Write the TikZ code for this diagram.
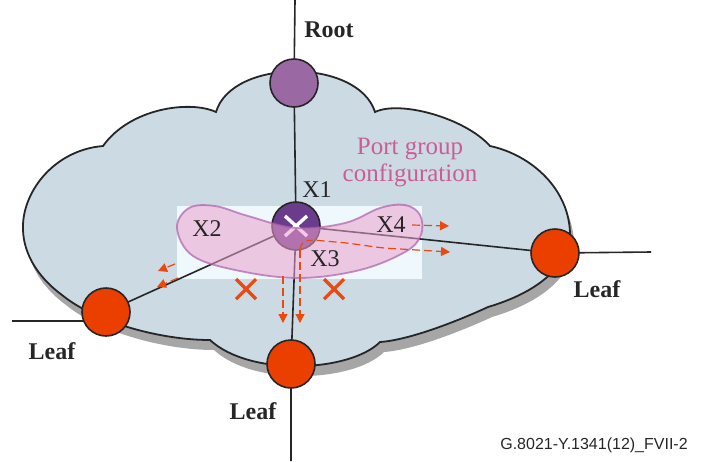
\documentclass[tikz,border=0pt]{standalone}
\usepackage{fontspec}
\setmainfont{Liberation Serif}
\newfontfamily\captionfont{Liberation Sans}
\usepackage{xcolor}
\definecolor{cloudfill}{HTML}{CBDAE3}
\definecolor{cloudshadow}{HTML}{A6A6A6}
\definecolor{rootpurple}{HTML}{9A68A2}
\definecolor{hubpurple}{HTML}{6B3C8C}
\definecolor{leaforange}{HTML}{EB3F00}
\definecolor{groupfill}{HTML}{EBA0CC}
\definecolor{groupedge}{HTML}{B060B0}
\definecolor{grouptext}{HTML}{CC5C98}
\definecolor{flow}{HTML}{EA4A10}
\definecolor{panel}{HTML}{EEF8FD}
\usetikzlibrary{positioning,arrows.meta}
\pgfdeclarelayer{cloudlayer}
\pgfdeclarelayer{linklayer}
\pgfsetlayers{cloudlayer,linklayer,main}
\newcommand{\cloudshape}[1]{%
  \path[#1] (216,112) .. controls (232,58) and (358,58) .. (375,112)
    .. controls (400,100) and (465,118) .. (490,146)
    .. controls (532,155) and (570,190) .. (570,235)
    .. controls (568,262) and (545,290) .. (488,307)
    .. controls (460,320) and (410,340) .. (380,342)
    .. controls (350,372) and (250,377) .. (210,340)
    .. controls (160,340) and (95,322) .. (62,295)
    .. controls (35,275) and (22,250) .. (23,225)
    .. controls (24,190) and (55,150) .. (103,146)
    .. controls (130,108) and (190,100) .. (216,112) -- cycle;}

\begin{document}
\begin{tikzpicture}[x=0.5pt, y=-0.5pt,
  link/.style={draw=black!85, line width=0.8pt},
  rootnode/.style={circle, draw=black!85, line width=0.8pt, fill=rootpurple,
    minimum size=24pt, inner sep=0pt},
  hubnode/.style={rootnode, fill=hubpurple},
  leafnode/.style={rootnode, fill=leaforange},
  portlabel/.style={font=\fontsize{12}{14}\selectfont, text=black!85},
  nameplate/.style={font=\fontsize{12}{14}\selectfont\bfseries, text=black!85},
  flowarrow/.style={draw=flow, line width=0.6pt, dash pattern=on 4pt off 2pt,
    -{Triangle[length=4.5pt, width=4.5pt]}},
  blockmark/.style={draw=flow, line width=1.6pt},
]
  \useasboundingbox (0,0) rectangle (704,461);

  % cloud with its shadow
  \begin{pgfonlayer}{cloudlayer}
    \cloudshape{fill=cloudshadow, shift={(4,10)}}
    \cloudshape{draw=black!85, line width=0.9pt, fill=cloudfill}
    \fill[panel] (177,206) rectangle (422,279);
  \end{pgfonlayer}

  \node[rootnode] (root) at (294,83) {};
  \node[hubnode] (hub) at (296,226) {};
  \node[leafnode] (leafL) at (106,312) {};
  \node[leafnode] (leafR) at (555,253) {};
  \node[leafnode] (leafB) at (291,364) {};
  \coordinate (rootTop) at (295,0);
  \coordinate (leafLEnd) at (12,321);
  \coordinate (leafREnd) at (651,252);
  \coordinate (leafBEnd) at (291,461);

  \begin{pgfonlayer}{linklayer}
    \draw[link] (rootTop) -- (root.center) -- (hub.center);
    \draw[link] (hub.center) -- (leafL.center);
    \draw[link] (hub.center) -- (leafR.center) -- (leafREnd);
    \draw[link] (hub.center) -- (leafB.center) -- (leafBEnd);
    \draw[link] (leafLEnd) -- (leafLEnd -| leafL.center);
  \end{pgfonlayer}

  \draw[white, line width=1.7pt] ([shift={(-11,-10)}]hub.center) -- ([shift={(11,10)}]hub.center);
  \draw[white, line width=1.7pt] ([shift={(-11,10)}]hub.center) -- ([shift={(11,-10)}]hub.center);

  % port group
  \fill[groupfill, opacity=0.55] plot[smooth cycle, tension=0.6] coordinates {
    (177,228) (189,208) (215,206) (248,216) (296,228) (345,223) (380,208)
    (405,205) (420,215) (421,235) (405,252) (360,270) (300,278) (240,271) (193,256)};
  \draw[groupedge, opacity=0.7, line width=0.9pt] plot[smooth cycle, tension=0.6] coordinates {
    (177,228) (189,208) (215,206) (248,216) (296,228) (345,223) (380,208)
    (405,205) (420,215) (421,235) (405,252) (360,270) (300,278) (240,271) (193,256)};

  \node[portlabel] (lblX1) at (317,190) {X1};
  \node[portlabel] (lblX2) at (207,229) {X2};
  \node[portlabel] (lblX3) at (325,259) {X3};
  \node[portlabel] (lblX4) at (391,225) {X4};
  \node[font=\fontsize{12.5}{13.5}\selectfont, text=grouptext, align=center]
       (lblGroup) at (410,163) {Port group\\configuration};
  \node[nameplate] (lblRoot) at (329,30) {Root};
  \node[nameplate] (lblLeafL) at (52,351) {Leaf};
  \node[nameplate] (lblLeafB) at (253,411) {Leaf};
  \node[nameplate] (lblLeafR) at (597,289) {Leaf};

  % forwarding
  \coordinate (fwdStart) at (300,250);
  \coordinate (fwdDown) at (300,323);
  \coordinate (fwdRight) at (450,252);
  \coordinate (fwdB) at (283,276);
  \coordinate (fwdBEnd) at (283,323);
  \coordinate (fwdX4) at (412,225);
  \coordinate (fwdX4End) at (449,226);
  \coordinate (fwdLA) at (175,264);
  \coordinate (fwdLAEnd) at (158,271);
  \coordinate (fwdLB) at (178,278);
  \coordinate (fwdLBEnd) at (157,287);
  \draw[flowarrow] (fwdStart) -- (fwdDown);
  \draw[flowarrow, rounded corners=3pt] (fwdStart) -- (302,241) -- (313,240)
       -- (347,243) -- (383,248) -- (417,250) -- (fwdRight);
  \draw[flowarrow] (fwdB) -- (fwdBEnd);
  \draw[flowarrow] (fwdX4) -- (fwdX4End);
  \draw[flowarrow] (fwdLA) -- (fwdLAEnd);
  \draw[flowarrow] (fwdLB) -- (fwdLBEnd);

  \coordinate (blockL) at (246,289);
  \coordinate (blockR) at (334,289);
  \foreach \b in {blockL,blockR} {
    \draw[blockmark] ([shift={(-10,-10)}]\b) -- ([shift={(10,10)}]\b);
    \draw[blockmark] ([shift={(-10,10)}]\b) -- ([shift={(10,-10)}]\b);
  }

  \node[font=\captionfont\fontsize{8}{9}\selectfont, text=black!85]
       (caption) at (594,445) {G.8021-Y.1341(12)\_FVII-2};
\end{tikzpicture}
\end{document}
